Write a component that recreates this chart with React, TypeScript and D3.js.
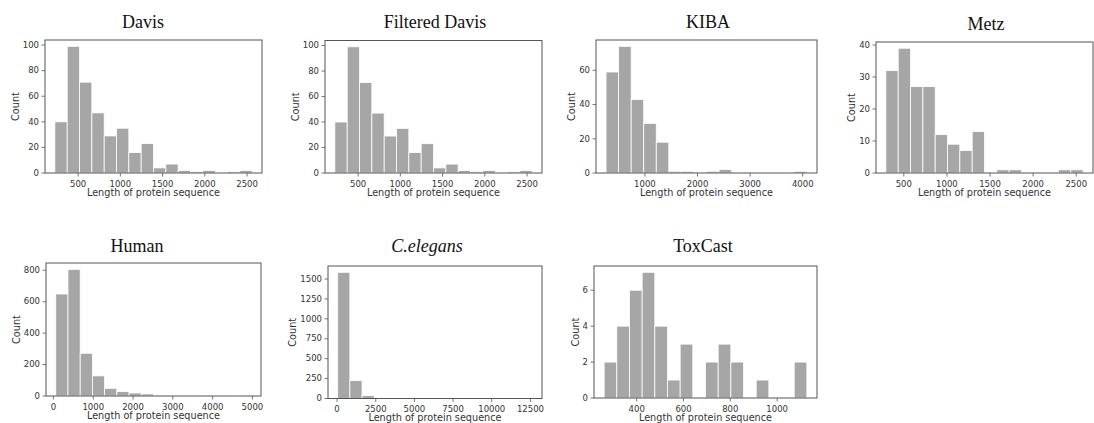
import * as d3 from 'd3';

// histogram counts (16 bins each), plus the bin range
const davisCounts = [40, 99, 71, 47, 29, 35, 16, 23, 4, 7, 2, 1, 2, 0, 1, 2];
const davisRange = [225, 2560];
const filteredDavisCounts = [40, 99, 71, 47, 29, 35, 16, 23, 4, 7, 2, 1, 2, 0, 1, 2];
const filteredDavisRange = [225, 2560];
const kibaCounts = [59, 74, 43, 29, 18, 1, 1, 0, 1, 2, 0, 0, 0, 0, 0, 1];
const kibaRange = [261, 4080];
const metzCounts = [32, 39, 27, 27, 12, 9, 7, 13, 0, 1, 1, 0, 0, 0, 1, 1];
const metzRange = [292, 2580];
const humanCounts = [649, 806, 272, 128, 49, 28, 19, 13, 6, 3, 1, 1, 0, 0, 0, 1];
const humanRange = [59, 4970];
const celegansCounts = [1584, 226, 35, 6, 2, 1, 0, 0, 0, 0, 0, 0, 0, 0, 0, 1];
const celegansRange = [43, 12619];
const toxcastCounts = [2, 4, 6, 7, 4, 1, 3, 0, 2, 3, 2, 0, 1, 0, 0, 2];
const toxcastRange = [261, 1127];

// tick values
const davisXTicks = [500, 1000, 1500, 2000, 2500];
const davisYTicks = [0, 20, 40, 60, 80, 100];
const kibaXTicks = [1000, 2000, 3000, 4000];
const kibaYTicks = [0, 20, 40, 60];
const metzXTicks = [500, 1000, 1500, 2000, 2500];
const metzYTicks = [0, 10, 20, 30, 40];
const humanXTicks = [0, 1000, 2000, 3000, 4000, 5000];
const humanYTicks = [0, 200, 400, 600, 800];
const celegansXTicks = [0, 2500, 5000, 7500, 10000, 12500];
const celegansYTicks = [0, 250, 500, 750, 1000, 1250, 1500];
const toxcastXTicks = [400, 600, 800, 1000];
const toxcastYTicks = [0, 2, 4, 6];

const titles = ['Davis', 'Filtered Davis', 'KIBA', 'Metz', 'Human', 'C.elegans', 'ToxCast'];

// panel boxes on the page
const layout = [
  { left: 45, right: 262, top: 40, bottom: 173, titleX: 143, titleY: 28 },
  { left: 325, right: 542, top: 40.5, bottom: 173, titleX: 435, titleY: 27.5 },
  { left: 596, right: 817, top: 40, bottom: 173, titleX: 708, titleY: 28 },
  { left: 876, right: 1093, top: 42, bottom: 173, titleX: 986, titleY: 30 },
  { left: 46, right: 261, top: 263, bottom: 396, titleX: 137, titleY: 252 },
  { left: 328, right: 542, top: 266, bottom: 398.5, titleX: 427, titleY: 251.5 },
  { left: 594, right: 817, top: 266, bottom: 398, titleX: 703, titleY: 252 },
];

const panels = [
  { counts: davisCounts, range: davisRange, xTicks: davisXTicks, yTicks: davisYTicks },
  { counts: filteredDavisCounts, range: filteredDavisRange, xTicks: davisXTicks, yTicks: davisYTicks },
  { counts: kibaCounts, range: kibaRange, xTicks: kibaXTicks, yTicks: kibaYTicks },
  { counts: metzCounts, range: metzRange, xTicks: metzXTicks, yTicks: metzYTicks },
  { counts: humanCounts, range: humanRange, xTicks: humanXTicks, yTicks: humanYTicks },
  { counts: celegansCounts, range: celegansRange, xTicks: celegansXTicks, yTicks: celegansYTicks },
  { counts: toxcastCounts, range: toxcastRange, xTicks: toxcastXTicks, yTicks: toxcastYTicks },
];

const tickFont = 8.5;
const frameColor = '#555';
const textColor = '#333';
const barColor = '#a6a6a6';

function Panel({ idx }: { idx: number }) {
  const p = panels[idx];
  const box = layout[idx];
  const [lo, hi] = p.range;
  const span = hi - lo;
  const n = p.counts.length;
  const bins = p.counts.map((c, i) => ({
    x0: lo + (i * span) / n,
    x1: lo + ((i + 1) * span) / n,
    count: c,
  }));

  const x = d3
    .scaleLinear()
    .domain([lo - 0.05 * span, hi + 0.05 * span])
    .range([box.left, box.right]);
  const y = d3
    .scaleLinear()
    .domain([0, d3.max(p.counts)! * 1.05])
    .range([box.bottom, box.top]);

  const maxLabel = d3.max(p.yTicks, (t) => String(t).length)!;
  const yLabelX = box.left - (13.5 + maxLabel * 0.636 * tickFont);
  const yMid = (box.top + box.bottom) / 2;

  return (
    <g>
      <text
        x={box.titleX}
        y={box.titleY}
        textAnchor="middle"
        fontFamily="'Liberation Serif', 'Times New Roman', serif"
        fontSize={18}
        fontStyle={titles[idx] === 'C.elegans' ? 'italic' : 'normal'}
        fill="#111"
      >
        {titles[idx]}
      </text>

      {bins.map((b, i) =>
        b.count > 0 ? (
          <rect
            key={i}
            x={x(b.x0)}
            y={y(b.count)}
            width={x(b.x1) - x(b.x0)}
            height={y(0) - y(b.count)}
            fill={barColor}
            stroke="#fff"
            strokeWidth={0.8}
          />
        ) : null
      )}

      <rect
        x={box.left}
        y={box.top}
        width={box.right - box.left}
        height={box.bottom - box.top}
        fill="none"
        stroke={frameColor}
        strokeWidth={1}
      />

      {p.xTicks.map((t) => (
        <g key={'x' + t} transform={`translate(${x(t)},${box.bottom})`}>
          <line y2={3.5} stroke={frameColor} strokeWidth={0.8} />
          <text
            y={13.5}
            textAnchor="middle"
            fontFamily="'DejaVu Sans', sans-serif"
            fontSize={tickFont}
            fill={textColor}
          >
            {t}
          </text>
        </g>
      ))}

      {p.yTicks.map((t) => (
        <g key={'y' + t} transform={`translate(${box.left},${y(t)})`}>
          <line x2={-3.5} stroke={frameColor} strokeWidth={0.8} />
          <text
            x={-6}
            dy="0.32em"
            textAnchor="end"
            fontFamily="'DejaVu Sans', sans-serif"
            fontSize={tickFont}
            fill={textColor}
          >
            {t}
          </text>
        </g>
      ))}

      <text
        x={(box.left + box.right) / 2}
        y={box.bottom + 22.5}
        textAnchor="middle"
        fontFamily="'DejaVu Sans', sans-serif"
        fontSize={9.7}
        fill={textColor}
      >
        Length of protein sequence
      </text>
      <text
        transform={`translate(${yLabelX},${yMid}) rotate(-90)`}
        textAnchor="middle"
        dy="0.35em"
        fontFamily="'DejaVu Sans', sans-serif"
        fontSize={9.7}
        fill={textColor}
      >
        Count
      </text>
    </g>
  );
}

export default function App() {
  return (
    <svg
      width={1094}
      height={423}
      style={{ position: 'absolute', left: 0, top: 0, background: '#fff' }}
    >
      {panels.map((_, i) => (
        <Panel key={i} idx={i} />
      ))}
    </svg>
  );
}
